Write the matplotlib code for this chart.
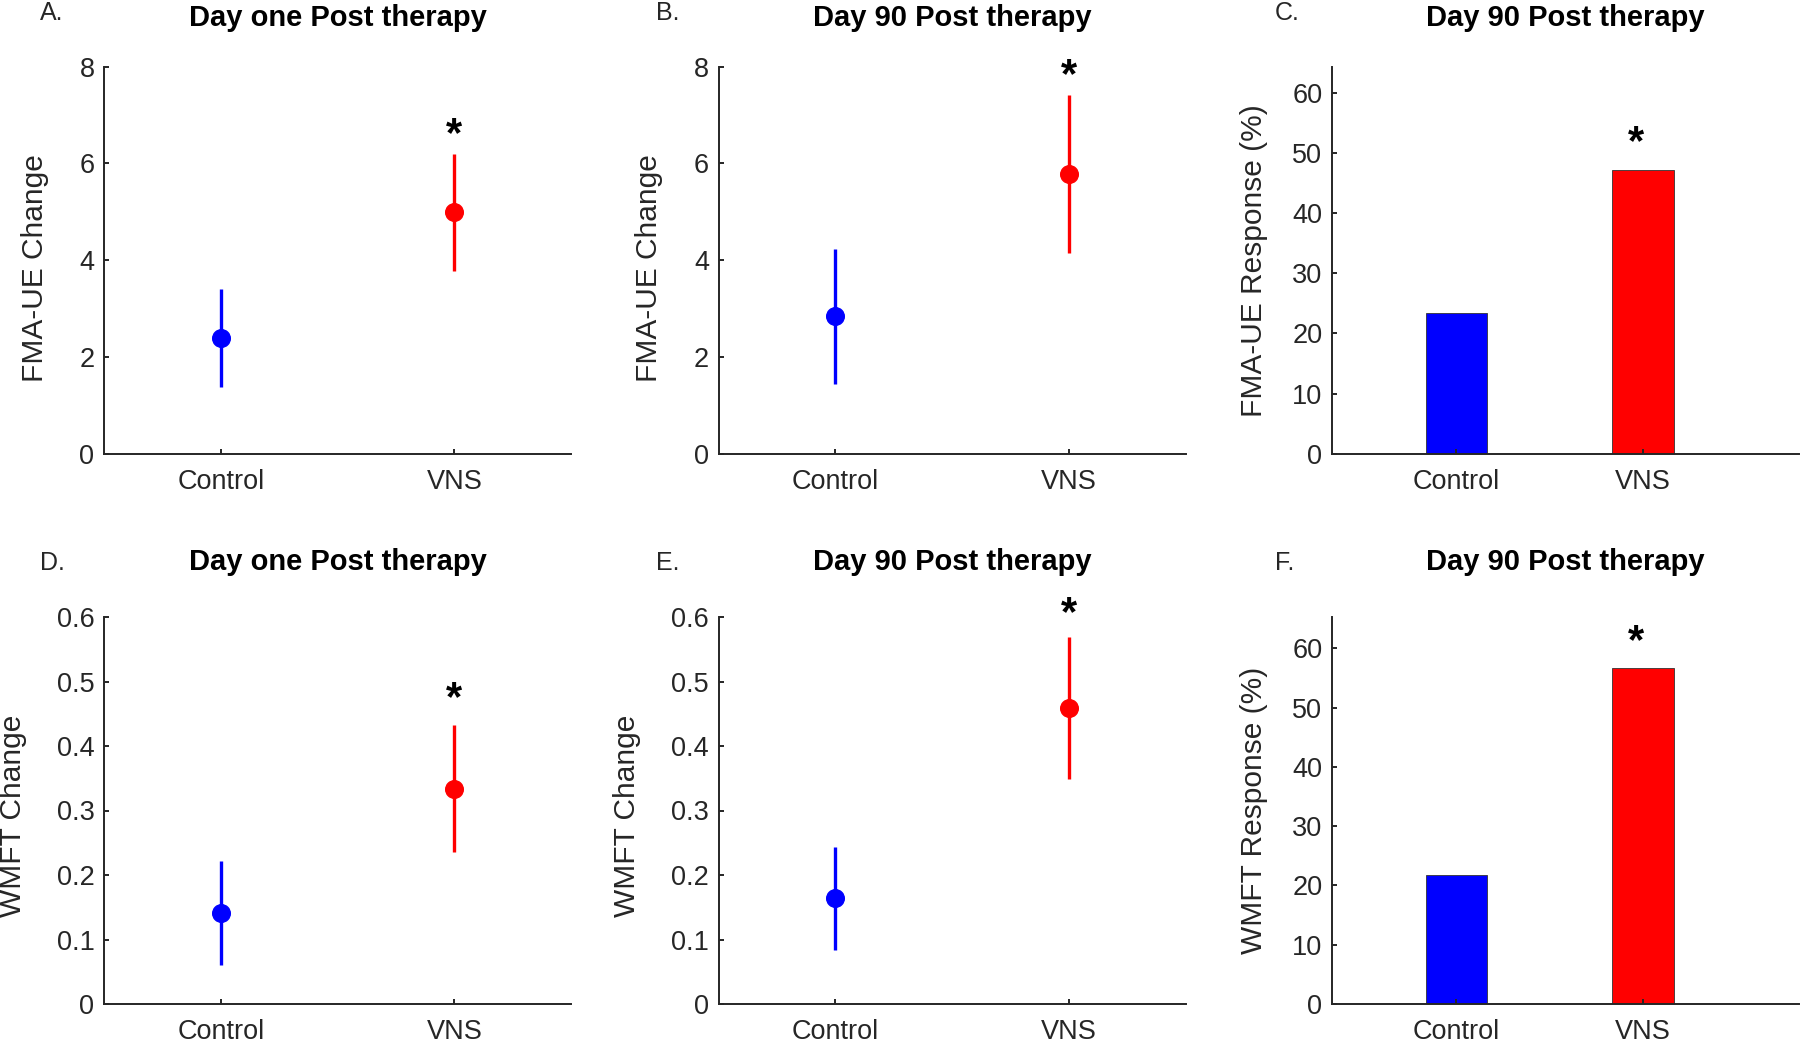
import matplotlib
matplotlib.use("Agg")
import matplotlib.pyplot as plt

plt.rcParams["font.family"] = ["Liberation Sans", "DejaVu Sans"]

########## Data ##########

groups = ["Control", "VNS"]
group_x = [1, 2]
group_colors = ["#0000ff", "#ff0000"]

# FMA-UE change (mean +/- error bar half-length)
fma_day1_mean = [2.39, 4.99]
fma_day1_err = [1.01, 1.21]
fma_day90_mean = [2.84, 5.78]
fma_day90_err = [1.39, 1.63]

# WMFT change
wmft_day1_mean = [0.141, 0.334]
wmft_day1_err = [0.081, 0.098]
wmft_day90_mean = [0.164, 0.459]
wmft_day90_err = [0.080, 0.110]

# responder rates (%)
fma_response = [23.4, 47.1]
wmft_response = [21.7, 56.7]

# significance star heights (data units)
star_y = {"A": 6.75, "B": 7.97, "C": 52.9, "D": 0.484, "E": 0.616, "F": 62.4}

fma_ticks = [0, 2, 4, 6, 8]
wmft_ticks = [0, 0.1, 0.2, 0.3, 0.4, 0.5, 0.6]
wmft_ticklabels = ["0", "0.1", "0.2", "0.3", "0.4", "0.5", "0.6"]
resp_ticks = [0, 10, 20, 30, 40, 50, 60]

titles = ["Day one Post therapy", "Day 90 Post therapy", "Day 90 Post therapy"]

###########################

W, H = 1800, 1041
AX_GRAY = "#262626"

fig = plt.figure(figsize=(W / 100, H / 100), dpi=100)

col_left = [104.1, 718.6, 1332.0]
row_top = [66.7, 617.0]
ax_w, ax_h = 467.2, 387.0


def make_axes(row, col):
    l = col_left[col] / W
    b = 1 - (row_top[row] + ax_h) / H
    ax = fig.add_axes([l, b, ax_w / W, ax_h / H])
    for side in ["top", "right"]:
        ax.spines[side].set_visible(False)
    for side in ["left", "bottom"]:
        ax.spines[side].set_color(AX_GRAY)
        ax.spines[side].set_linewidth(1.4)
    ax.tick_params(direction="in", length=3.5, width=1.4, color=AX_GRAY,
                   labelcolor=AX_GRAY, labelsize=19.5)
    ax.tick_params(axis="y", pad=7)
    ax.tick_params(axis="x", pad=11)
    return ax


def star(ax, y, x_shift=0):
    fs = 30
    ax.annotate("*", xy=(2, y), xytext=(x_shift, -0.45 * fs), textcoords="offset points",
                ha="center", va="baseline", fontsize=fs, fontweight="bold", color="black",
                annotation_clip=False)


def dot_panel(ax, means, errs, ylim, ticks, ticklabels, ylabel, label_xy, star_key):
    for x, m, e, c in zip(group_x, means, errs, group_colors):
        ax.errorbar([x], [m], yerr=[e], fmt="o", color=c, ms=12.7,
                    elinewidth=2.4, capsize=0)
    ax.set_xlim(0.5, 2.5)
    ax.set_ylim(*ylim)
    ax.set_xticks(group_x)
    ax.set_xticklabels(groups)
    ax.set_yticks(ticks)
    ax.set_yticklabels(ticklabels)
    ax.set_ylabel(ylabel, fontsize=21.5, color=AX_GRAY, va="center")
    ax.yaxis.set_label_coords(*label_xy)
    star(ax, star_y[star_key])


def bar_panel(ax, values, ylim_top, ylabel, star_key):
    ax.bar(group_x, values, width=0.33, color=group_colors, edgecolor="#333333", linewidth=0.6)
    ax.set_xlim(0.334, 2.836)
    ax.set_ylim(0, ylim_top)
    ax.set_xticks(group_x)
    ax.set_xticklabels(groups)
    ax.set_yticks(resp_ticks)
    ax.set_ylabel(ylabel, fontsize=21.5, color=AX_GRAY, va="center")
    ax.yaxis.set_label_coords(-0.166, 0.5)
    star(ax, star_y[star_key], x_shift=-5)


axA = make_axes(0, 0)
dot_panel(axA, fma_day1_mean, fma_day1_err, (0, 8), fma_ticks, [str(t) for t in fma_ticks],
          "FMA-UE Change", (-0.147, 0.479), "A")
axB = make_axes(0, 1)
dot_panel(axB, fma_day90_mean, fma_day90_err, (0, 8), fma_ticks, [str(t) for t in fma_ticks],
          "FMA-UE Change", (-0.149, 0.479), "B")
axC = make_axes(0, 2)
bar_panel(axC, fma_response, 64.3, "FMA-UE Response (%)", "C")

axD = make_axes(1, 0)
dot_panel(axD, wmft_day1_mean, wmft_day1_err, (0, 0.6), wmft_ticks, wmft_ticklabels,
          "WMFT Change", (-0.196, 0.486), "D")
axE = make_axes(1, 1)
dot_panel(axE, wmft_day90_mean, wmft_day90_err, (0, 0.6), wmft_ticks, wmft_ticklabels,
          "WMFT Change", (-0.196, 0.486), "E")
axF = make_axes(1, 2)
bar_panel(axF, wmft_response, 65.3, "WMFT Response (%)", "F")

# titles and panel letters
title_base = [26, 570]
letter_base = [20, 570]
letter_x = [40, 656, 1274.6]
letters = [["A.", "B.", "C."], ["D.", "E.", "F."]]
for r in range(2):
    for c in range(3):
        cx = (col_left[c] + ax_w / 2) / W
        fig.text(cx, 1 - title_base[r] / H, titles[c], ha="center", va="baseline",
                 fontsize=21, fontweight="bold", color="black")
        fig.text(letter_x[c] / W, 1 - letter_base[r] / H, letters[r][c], ha="left",
                 va="baseline", fontsize=18, color=AX_GRAY)

fig.savefig("out.png", dpi=100)
